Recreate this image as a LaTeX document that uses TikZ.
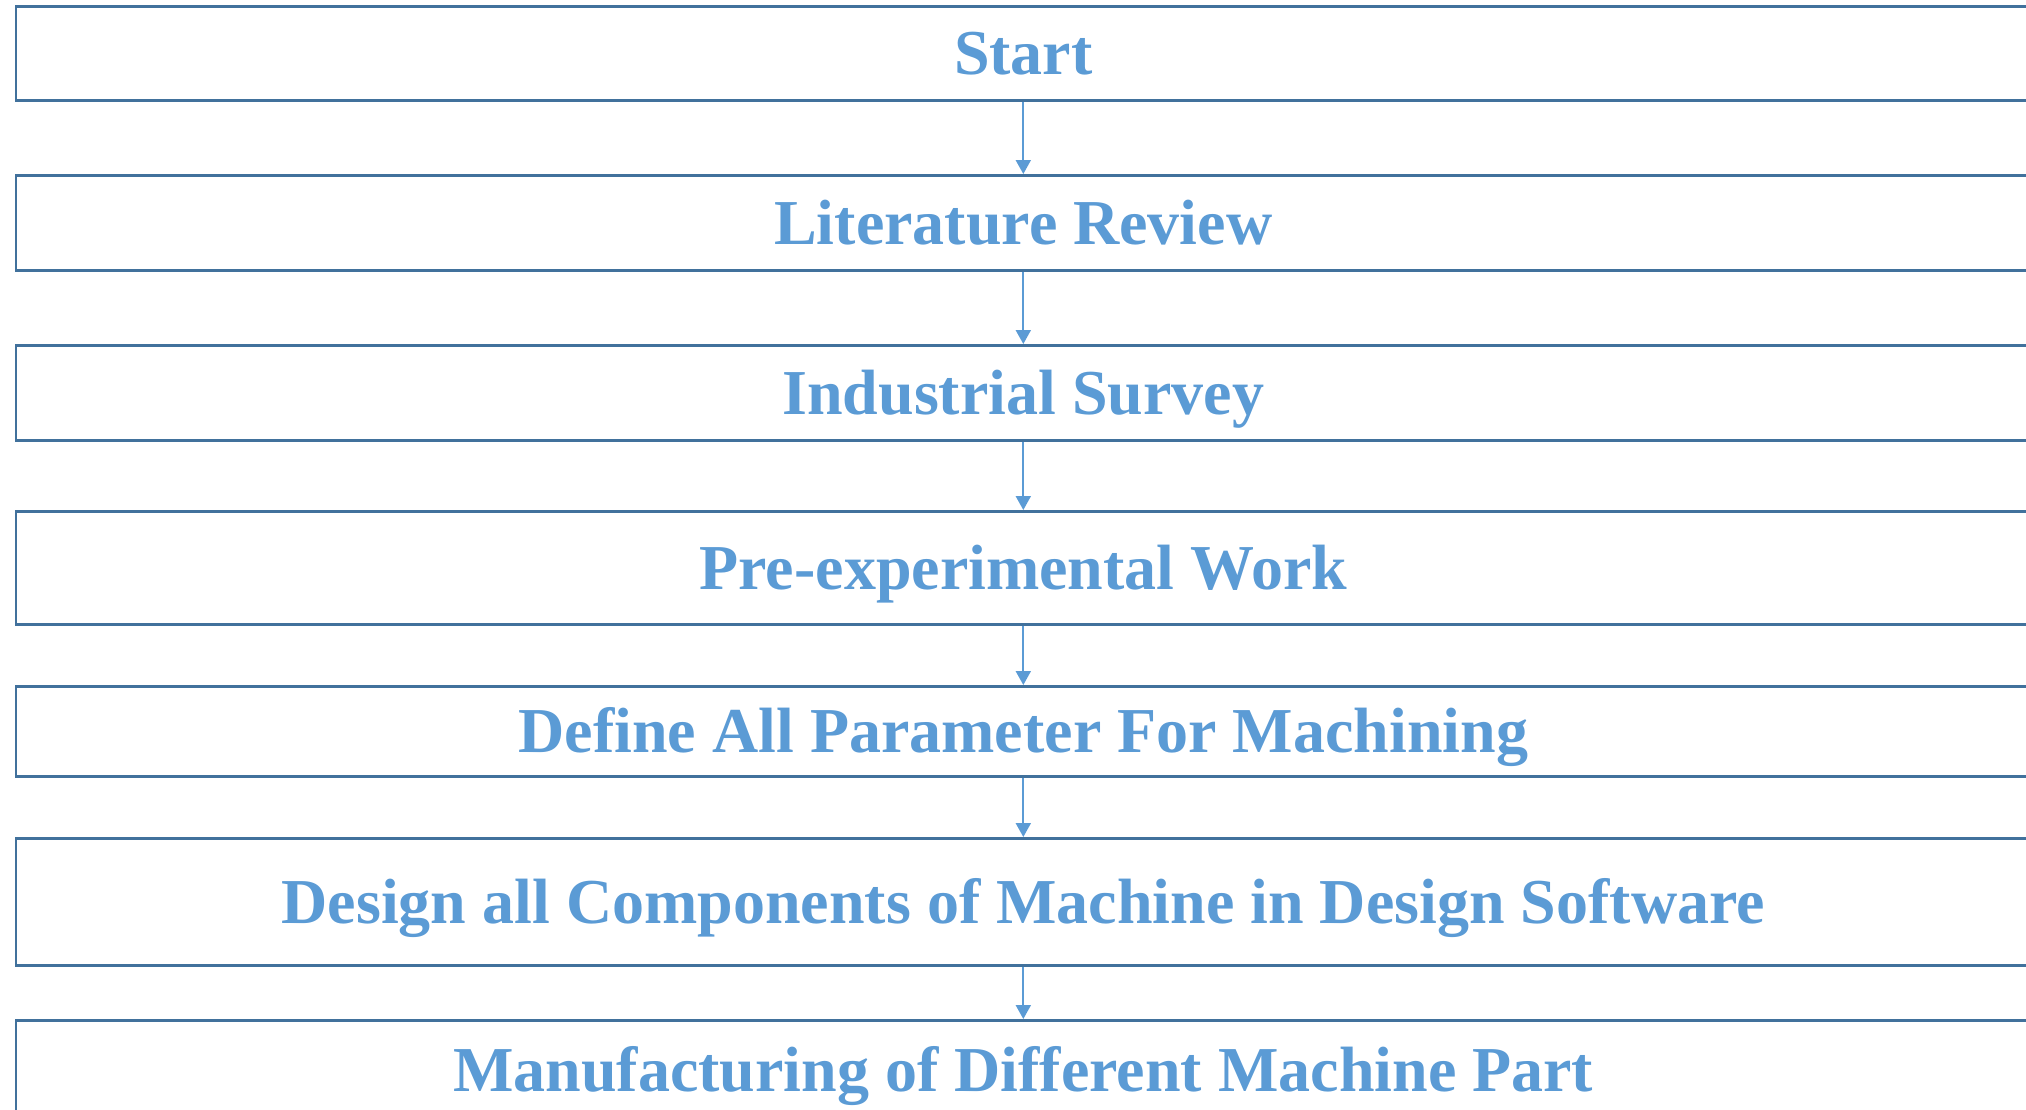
\documentclass[tikz,border=0pt]{standalone}
\usepackage{fontspec}
\setmainfont{Liberation Serif}
\usetikzlibrary{arrows.meta}
\definecolor{boxline}{RGB}{65,113,156}
\definecolor{txtblue}{RGB}{91,155,213}
\begin{document}
\begin{tikzpicture}[x=1pt,y=-1pt,
  stage/.style={draw=boxline, line width=2.6pt, rectangle, inner sep=0pt,
    minimum width=2015pt, text=txtblue,
    font=\fontsize{64}{70}\selectfont\bfseries,
    text height=42.5pt, text depth=0pt, anchor=north west},
  flow/.style={draw=txtblue, line width=2pt,
    -{Triangle[width=15pt,length=14pt]}}]
\useasboundingbox (0,0) rectangle (2026,1109);
\node[stage, minimum height=94pt]  (s1) at (14.5,5)    {Start};
\node[stage, minimum height=95pt]  (s2) at (14.5,174)  {Literature Review};
\node[stage, minimum height=95pt]  (s3) at (14.5,344)  {Industrial Survey};
\node[stage, minimum height=113pt] (s4) at (14.5,510)  {Pre-experimental Work};
\node[stage, minimum height=90pt]  (s5) at (14.5,685)  {Define All Parameter For Machining};
\node[stage, minimum height=127pt] (s6) at (14.5,837)  {Design all Components of Machine in Design Software};
\node[stage, minimum height=99pt]  (s7) at (14.5,1019) {Manufacturing of Different Machine Part};
\draw[flow] (s1.south) -- (s2.north);
\draw[flow] (s2.south) -- (s3.north);
\draw[flow] (s3.south) -- (s4.north);
\draw[flow] (s4.south) -- (s5.north);
\draw[flow] (s5.south) -- (s6.north);
\draw[flow] (s6.south) -- (s7.north);
\end{tikzpicture}
\end{document}
